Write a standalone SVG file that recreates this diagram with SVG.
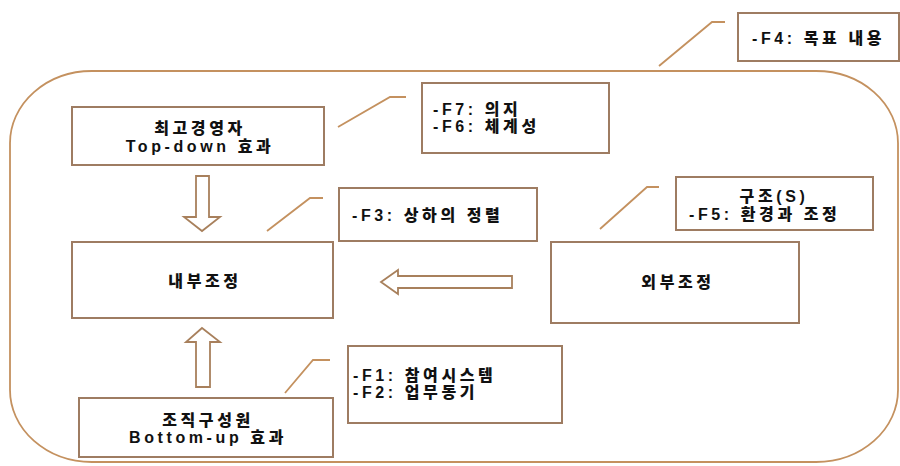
<svg xmlns="http://www.w3.org/2000/svg" width="900" height="466" viewBox="0 0 900 466">
<style>
.box{fill:#fff;stroke:#9e7c62;stroke-width:2}
.outer{fill:none;stroke:#c4915f;stroke-width:1.8}
.arr{fill:#fff;stroke:#a8805c;stroke-width:1.8;stroke-linejoin:miter}
.call{fill:none;stroke:#c4915f;stroke-width:1.8}
text{font-family:"Liberation Sans","Noto Sans CJK KR",sans-serif;font-weight:900;font-size:16px;fill:#111;letter-spacing:3.6px}
.c{text-anchor:middle}
</style>
<rect width="900" height="466" fill="#fff"/>
<g id="boundary"><rect class="outer" x="10" y="71" width="888" height="391" rx="82" ry="72"/></g>
<g id="connectors">
<polygon class="arr" points="196,176 209,176 209,217 220,217 202,231 184,217 196,217"/>
<polygon class="arr" points="202,328 220,342 210,342 210,387 196,387 196,342 186,342"/>
<polygon class="arr" points="381,282 398,270 398,276 512,276 512,288 398,288 398,294"/>
<polyline class="call" points="338,127 390,97 406,97"/>
<polyline class="call" points="267,231 310,198 323,198"/>
<polyline class="call" points="600,229 647,187 659,187"/>
<polyline class="call" points="659,66 712,22 725,22"/>
<polyline class="call" points="285,393 313,360 330,360"/>
</g>
<g id="topdown"><rect class="box" x="72" y="107" width="252" height="58"/><text class="c" x="200" y="134">최고경영자</text><text class="c" x="200" y="152">Top-down 효과</text></g>
<g id="f7"><rect class="box" x="422" y="83" width="187" height="70"/><text x="433" y="115">-F7: 의지</text><text x="433" y="132">-F6: 체계성</text></g>
<g id="f3"><rect class="box" x="339" y="188" width="198" height="53"/><text x="352" y="221">-F3: 상하의 정렬</text></g>
<g id="internal"><rect class="box" x="72" y="242" width="261" height="76"/><text class="c" x="205" y="287">내부조정</text></g>
<g id="external"><rect class="box" x="551" y="242" width="248" height="81"/><text class="c" x="678" y="288">외부조정</text></g>
<g id="f5"><rect class="box" x="676" y="177" width="197" height="53"/><text class="c" x="774" y="202">구조(S)</text><text x="689" y="220">-F5: 환경과 조정</text></g>
<g id="f4"><rect class="box" x="738" y="13" width="161" height="48"/><text x="752" y="44">-F4: 목표 내용</text></g>
<g id="f1"><rect class="box" x="348" y="346" width="214" height="77"/><text x="353" y="381">-F1: 참여시스템</text><text x="353" y="398">-F2: 업무동기</text></g>
<g id="bottomup"><rect class="box" x="79" y="398" width="254" height="59"/><text class="c" x="208" y="426">조직구성원</text><text class="c" x="208" y="443">Bottom-up 효과</text></g>
</svg>
